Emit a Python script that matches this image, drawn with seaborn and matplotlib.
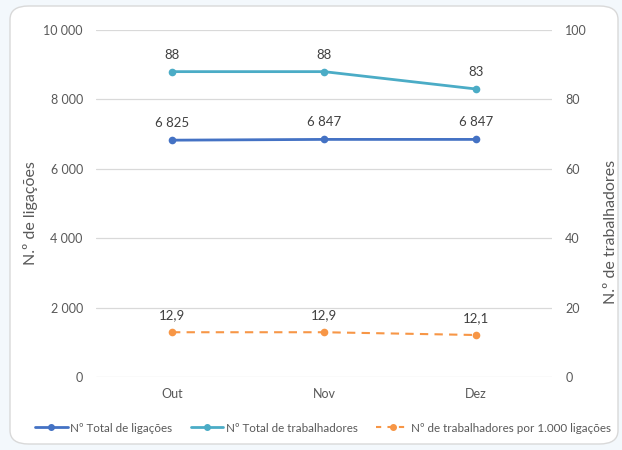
import matplotlib
matplotlib.use("Agg")
import matplotlib.pyplot as plt
import seaborn as sns
import pandas as pd
from matplotlib.patches import FancyBboxPatch
from matplotlib.lines import Line2D

months = ["Out", "Nov", "Dez"]
ligacoes = [6825, 6847, 6847]
trabalhadores = [88, 88, 83]
trab_por_1000 = [12.9, 12.9, 12.1]
lig_labels = ["6 825", "6 847", "6 847"]
trab_labels = ["88", "88", "83"]
ratio_labels = ["12,9", "12,9", "12,1"]
left_ticks = [0, 2000, 4000, 6000, 8000, 10000]
left_tick_labels = ["0", "2 000", "4 000", "6 000", "8 000", "10 000"]
right_ticks = [0, 20, 40, 60, 80, 100]

sns.set_theme(style="white")
plt.rcParams["font.family"] = ["Lato", "DejaVu Sans"]

c_blue = "#4472C4"
c_teal = "#4BACC6"
c_orange = "#F79646"
c_text = "#595959"

df = pd.DataFrame({"mes": months, "lig": ligacoes, "trab": trabalhadores, "ratio": trab_por_1000})
df["x"] = range(len(months))

fig = plt.figure(figsize=(6.22, 4.5), dpi=100)
fig.patch.set_facecolor("#f3f8fc")
card = FancyBboxPatch((10/622, 6/450), 608/622, 438/450,
                      boxstyle="round,pad=0,rounding_size=0.03",
                      transform=fig.transFigure, facecolor="white",
                      edgecolor="#d9d9d9", linewidth=1.0, zorder=-10)
fig.patches.append(card)

ax = fig.add_axes([96/622, 1 - 377/450, 456/622, 347/450])
ax.set_facecolor("none")
ax2 = ax.twinx()
ax2.set_facecolor("none")

sns.lineplot(data=df, x="x", y="lig", ax=ax, color=c_blue, marker="o",
             markersize=5.5, markeredgewidth=0, linewidth=2.0)
sns.lineplot(data=df, x="x", y="trab", ax=ax2, color=c_teal, marker="o",
             markersize=5.5, markeredgewidth=0, linewidth=2.0)
sns.lineplot(data=df, x="x", y="ratio", ax=ax2, color=c_orange, marker="o",
             markersize=5.5, markeredgewidth=0, linewidth=1.5, linestyle=(0, (4, 3)))

ax.set_xlim(-0.5, 2.5)
ax.set_ylim(0, 10000)
ax2.set_ylim(0, 100)
ax.set_yticks(left_ticks)
ax.set_yticklabels(left_tick_labels)
ax2.set_yticks(right_ticks)
ax.set_xticks(range(len(months)))
ax.set_xticklabels(months)
ax.grid(axis="y", color="#d9d9d9", linewidth=0.9)
ax2.grid(False)
ax.set_axisbelow(True)
for a in (ax, ax2):
    for s in a.spines.values():
        s.set_visible(False)
    a.tick_params(length=0, labelsize=9, labelcolor=c_text, pad=9.5)
ax.tick_params(axis="x", pad=8)
ax.set_xlabel("")
ax.set_ylabel("N.º de ligações", fontsize=11.5, color=c_text)
ax2.set_ylabel("N.º de trabalhadores", fontsize=11.5, color=c_text)
ax.yaxis.set_label_coords((38 - 96) / 456, (377 - 213) / 347)
ax2.yaxis.set_label_coords((604 - 96) / 456, (377 - 232) / 347)

for i in range(len(months)):
    ax.annotate(lig_labels[i], (i, ligacoes[i]), xytext=(0, 8), textcoords="offset points",
                ha="center", va="bottom", fontsize=9.5, color="#404040")
    ax2.annotate(trab_labels[i], (i, trabalhadores[i]), xytext=(0, 8), textcoords="offset points",
                 ha="center", va="bottom", fontsize=9.5, color="#404040")
    ax2.annotate(ratio_labels[i], (i, trab_por_1000[i]), xytext=(0, 8), textcoords="offset points",
                 ha="center", va="bottom", fontsize=9.5, color="#404040")

handles = [
    Line2D([], [], color=c_blue, marker="o", markersize=4, linewidth=2.0),
    Line2D([], [], color=c_teal, marker="o", markersize=4, linewidth=2.0),
    Line2D([], [], color=c_orange, marker="o", markersize=4, linewidth=1.5, linestyle=(0, (2.5, 3))),
]
labels = ["Nº Total de ligações", "Nº Total de trabalhadores", "Nº de trabalhadores por 1.000 ligações"]
leg = fig.legend(handles, labels, loc="center", bbox_to_anchor=(323/622, 1 - 428/450),
                 ncol=3, frameon=False, fontsize=8.4, handlelength=2.8, handletextpad=0.2,
                 columnspacing=1.6, labelcolor=c_text)

fig.savefig("out.png", dpi=100, facecolor=fig.get_facecolor())
